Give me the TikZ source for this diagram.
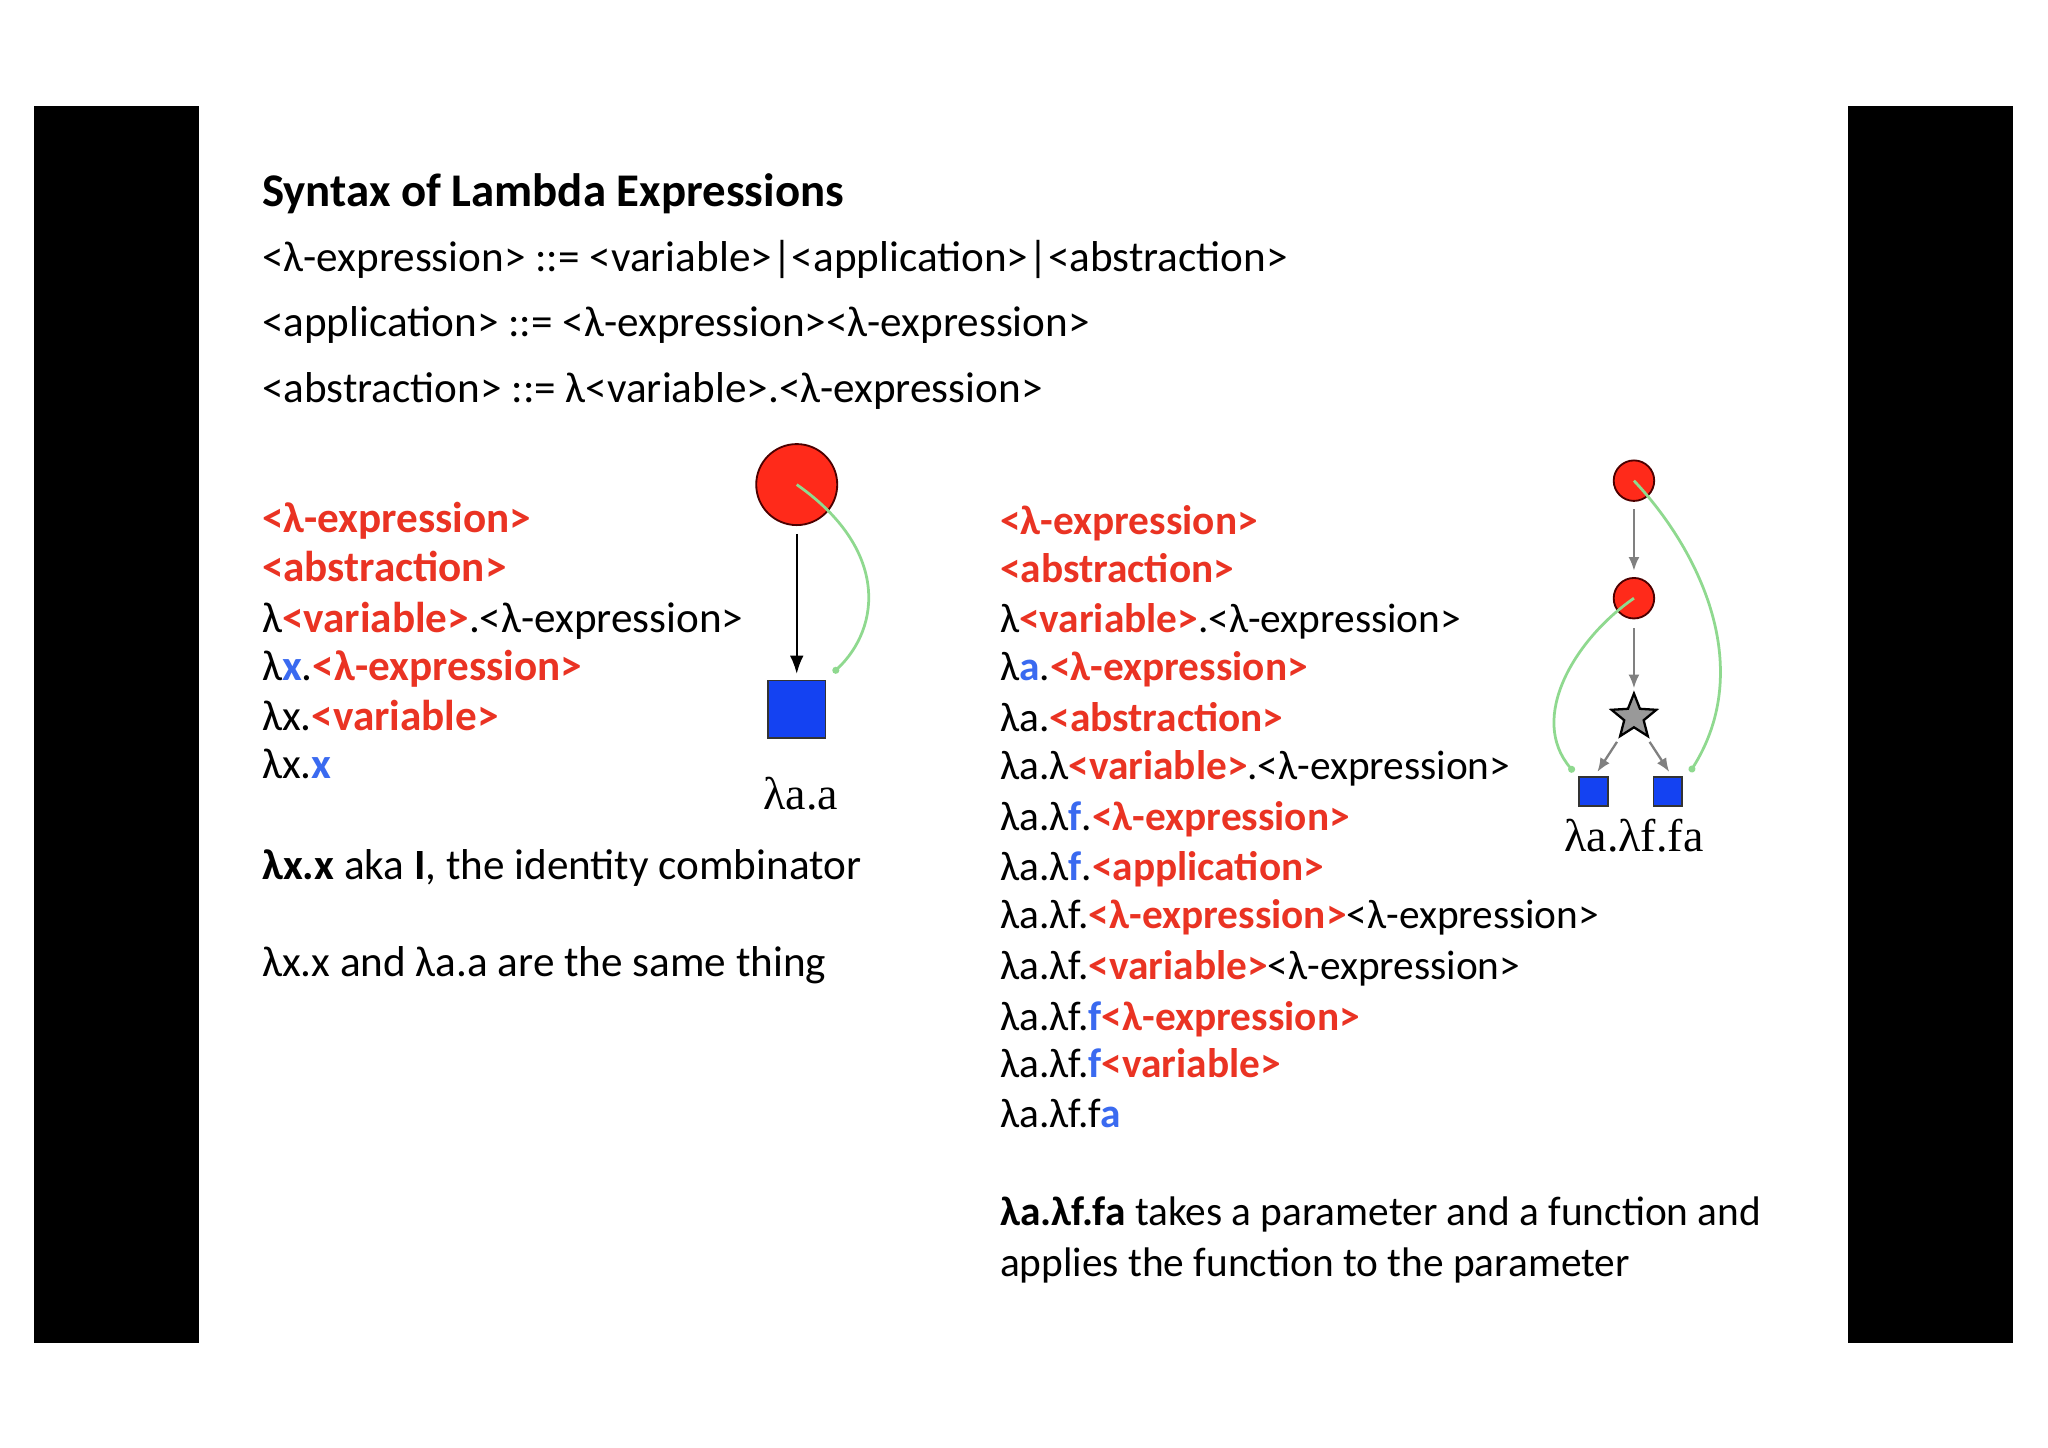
\documentclass[tikz,border=0pt]{standalone}
\usepackage{fontspec}
\setmainfont{Carlito}
\newfontfamily\diafont{Liberation Serif}
\usetikzlibrary{shapes.geometric,arrows.meta}
\definecolor{tred}{HTML}{EA3323}
\definecolor{tblue}{HTML}{3A6AF0}
\definecolor{nred}{HTML}{FF2A1A}
\definecolor{nblue}{HTML}{1442F2}
\definecolor{egreen}{HTML}{8FD98F}
\newcommand{\redt}[1]{\textcolor{tred}{\textbf{#1}}}
\newcommand{\bluet}[1]{\textcolor{tblue}{\textbf{#1}}}
\begin{document}
\begin{tikzpicture}[x=0.01cm,y=-0.01cm,
  txt/.style={anchor=base west,inner sep=0pt,font=\fontsize{9.4}{11}\selectfont},
  rtxt/.style={anchor=base west,inner sep=0pt,font=\fontsize{9}{11}\selectfont},
  bar/.style={fill=black,draw=none},
  rnode/.style={circle,fill=nred,draw=black!70!red,line width=0.4pt,inner sep=0pt},
  bnode/.style={rectangle,fill=nblue,draw=black!80,line width=0.4pt,inner sep=0pt},
  earr/.style={-{Latex[length=4pt,width=3pt]},line width=0.5pt},
  garr/.style={-{Latex[length=3pt,width=2.4pt]},gray,line width=0.5pt},
  grn/.style={egreen,line width=0.6pt,-{Circle[length=1.5pt]}}]
\useasboundingbox (0,0) rectangle (1568,1108);
\fill[white] (0,0) rectangle (1568,1108);
\fill[bar] (26,81) rectangle (152,1028);
\fill[bar] (1415,81) rectangle (1541,1028);
% header
\node[txt,font=\fontsize{10.2}{12}\selectfont\bfseries] (t0) at (200,158) {Syntax of Lambda Expressions};
\node[txt] (t1) at (200,208) {<λ-expression> ::= <variable>|<application>|<abstraction>};
\node[txt] (t2) at (200,258) {<application> ::= <λ-expression><λ-expression>};
\node[txt] (t3) at (200,308) {<abstraction> ::= λ<variable>.<λ-expression>};
% left column
\node[txt] (l1) at (200,408) {\redt{<λ-expression>}};
\node[txt] (l2) at (200,445) {\redt{<abstraction>}};
\node[txt] (l3) at (200,484) {λ\redt{<variable>}.<λ-expression>};
\node[txt] (l4) at (200,521) {λ\bluet{x}.\redt{<λ-expression>}};
\node[txt] (l5) at (200,559) {λx.\redt{<variable>}};
\node[txt] (l6) at (200,596) {λx.\bluet{x}};
\node[txt] (l7) at (200,673) {\textbf{λx.x} aka \textbf{I}, the identity combinator};
\node[txt] (l8) at (200,748) {λx.x and λa.a are the same thing};
% right column
\node[rtxt] (r1) at (765,409) {\redt{<λ-expression>}};
\node[rtxt] (r2) at (765,446) {\redt{<abstraction>}};
\node[rtxt] (r3) at (765,484) {λ\redt{<variable>}.<λ-expression>};
\node[rtxt] (r4) at (765,521) {λ\bluet{a}.\redt{<λ-expression>}};
\node[rtxt] (r5) at (765,560) {λa.\redt{<abstraction>}};
\node[rtxt] (r6) at (765,597) {λa.λ\redt{<variable>}.<λ-expression>};
\node[rtxt] (r7) at (765,636) {λa.λ\bluet{f}.\redt{<λ-expression>}};
\node[rtxt] (r8) at (765,674) {λa.λ\bluet{f}.\redt{<application>}};
\node[rtxt] (r9) at (765,711) {λa.λf.\redt{<λ-expression>}<λ-expression>};
\node[rtxt] (r10) at (765,750) {λa.λf.\redt{<variable>}<λ-expression>};
\node[rtxt] (r11) at (765,789) {λa.λf.\bluet{f}\redt{<λ-expression>}};
\node[rtxt] (r12) at (765,825) {λa.λf.\bluet{f}\redt{<variable>}};
\node[rtxt] (r13) at (765,863) {λa.λf.f\bluet{a}};
\node[rtxt] (r14) at (765,938) {\textbf{λa.λf.fa} takes a parameter and a function and};
\node[rtxt] (r15) at (765,977) {applies the function to the parameter};
% left diagram
\node[rnode,minimum size=62\pgflinewidth*0+0.62cm] (c1) at (610,371) {};
\node[bnode,minimum size=0.44cm] (s1) at (610,543) {};
\coordinate (s1t) at (610,516);
\coordinate (s1g) at (638,515);
\draw[earr] (c1.south)++(0,6) -- (s1t);
\draw[grn] (c1.center) .. controls (680,420) and (675,480) .. (s1g);
\node[anchor=base,inner sep=0pt,font=\diafont\fontsize{10}{12}\selectfont] (la) at (613,620) {λa.a};
% right diagram
\node[rnode,minimum size=0.31cm] (c2) at (1251,368) {};
\node[rnode,minimum size=0.31cm] (c3) at (1251,458) {};
\node[star,star points=5,star point ratio=2.3,fill=gray!80,draw=black,line width=0.5pt,minimum size=0.36cm,inner sep=0pt] (st) at (1251,549) {};
\node[bnode,minimum size=0.22cm] (s2) at (1220,606) {};
\node[bnode,minimum size=0.22cm] (s3) at (1277,606) {};
\coordinate (g2) at (1205,591);
\coordinate (g3) at (1294,591);
\draw[garr] (1251,390) -- (1251,437);
\draw[garr] (1251,481) -- (1251,527);
\draw[garr] (1238,568) -- (1223,591);
\draw[garr] (1263,568) -- (1278,591);
\draw[grn] (c3.center) .. controls (1205,490) and (1170,550) .. (g2);
\draw[grn] (c2.center) .. controls (1300,420) and (1345,510) .. (g3);
\node[anchor=base,inner sep=0pt,font=\diafont\fontsize{10}{12}\selectfont] (lb) at (1251,652) {λa.λf.fa};
\end{tikzpicture}
\end{document}
